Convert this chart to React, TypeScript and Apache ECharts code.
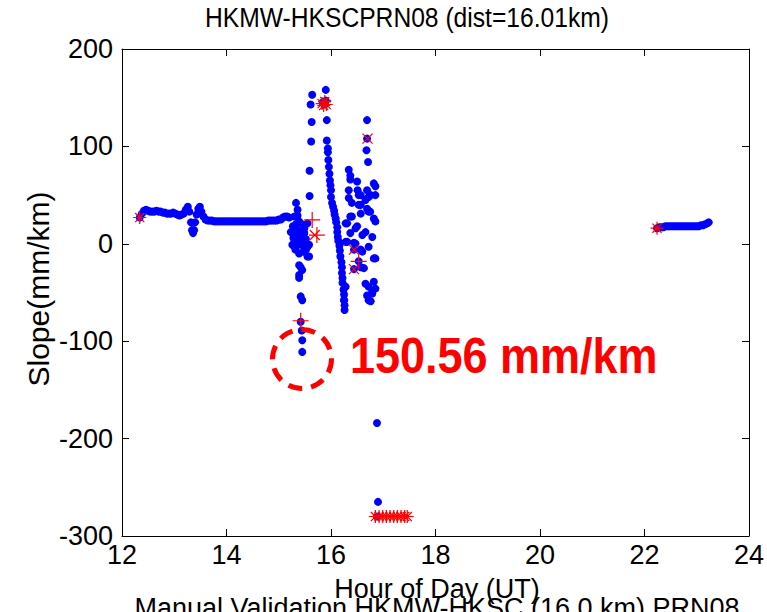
import React, { useEffect, useRef } from "react";
import * as echarts from "echarts";

// Hour of day (UT), slope (mm/km)
const trackEarly: [number, number][] = [
  [12.34, 27], [12.38, 31], [12.42, 34], [12.46, 35], [12.5, 34], [12.54, 33], [12.58, 33], [12.62, 33],
  [12.66, 34], [12.7, 33], [12.74, 33], [12.78, 32], [12.82, 32], [12.86, 31], [12.9, 31], [12.94, 31],
  [12.98, 32], [13.02, 31], [13.06, 30], [13.1, 29], [13.14, 30], [13.18, 31], [13.22, 35], [13.26, 38],
  [13.29, 33], [13.32, 22], [13.34, 14], [13.36, 11], [13.38, 14], [13.4, 22], [13.43, 30], [13.46, 36],
  [13.49, 38], [13.52, 33], [13.56, 28], [13.6, 25], [13.64, 24], [13.68, 24], [13.72, 24], [13.76, 23],
  [13.8, 23], [13.84, 23], [13.88, 23], [13.92, 23], [13.96, 23], [14.0, 23], [14.04, 23], [14.08, 23],
  [14.12, 23], [14.16, 23], [14.2, 23], [14.24, 23], [14.28, 23], [14.32, 23], [14.36, 23], [14.4, 23],
  [14.44, 23], [14.48, 23], [14.52, 23], [14.56, 23], [14.6, 23], [14.64, 23], [14.68, 23], [14.72, 23],
  [14.76, 23], [14.8, 24], [14.84, 24], [14.88, 24], [14.92, 24], [14.96, 24], [15.0, 25], [15.04, 25],
  [15.08, 27], [15.12, 28], [15.16, 28], [15.2, 27],
];

const clusterMid: [number, number][] = [
  [15.23, 12], [15.26, 12], [15.26, -1], [15.28, 6], [15.3, 5], [15.3, 28], [15.3, -3], [15.33, 42],
  [15.36, 35], [15.36, 29], [15.39, 23], [15.39, 0], [15.39, -10], [15.39, -22], [15.39, -32], [15.39, -35],
  [15.42, -1], [15.42, -24], [15.42, -54], [15.42, -80], [15.44, -89], [15.45, -27], [15.45, -58],
  [15.45, -99], [15.45, -111], [15.49, 16], [15.49, 11], [15.52, 5], [15.55, -3], [15.55, 21], [15.55, -13],
  [15.58, -13], [15.58, -1], [15.59, 49], [15.59, 75], [15.62, 105], [15.63, 125], [15.61, 143], [15.64, 153],
  [15.33, 20], [15.36, 14], [15.33, 8], [15.36, 2], [15.45, 5], [15.48, 0], [15.52, -6], [15.45, 20],
  [15.42, 12], [15.47, -8], [15.84, 145], [15.88, 143], [15.27, 18], [15.32, -6], [15.5, -3],
];

const sweep: [number, number][] = [
  [15.9, 158], [15.9, 147], [15.92, 127], [15.92, 106], [15.94, 98], [15.94, 94], [15.95, 86], [15.96, 79],
  [15.97, 72], [15.98, 65], [15.99, 60], [16.0, 55], [16.0, 48], [16.02, 42], [16.04, 38], [16.06, 34],
  [16.07, 30], [16.09, 26], [16.1, 22], [16.12, 17], [16.12, 12], [16.13, 7], [16.14, 3], [16.16, -2],
  [16.17, -7], [16.18, -13], [16.2, -19], [16.21, -24], [16.21, -30], [16.22, -35], [16.22, -40],
  [16.24, -47], [16.25, -52], [16.25, -58], [16.26, -63], [16.26, -68],
];

const clusterLate: [number, number][] = [
  [16.69, 127], [16.69, 108], [16.68, 96], [16.71, 84], [16.34, 76], [16.37, 70], [16.37, 66], [16.5, 64],
  [16.82, 62], [16.85, 59], [16.34, 55], [16.51, 55], [16.69, 55], [16.34, 47], [16.72, 48], [16.57, 50],
  [16.53, 50], [16.76, 50], [16.85, 50], [16.4, 42], [16.53, 40], [16.57, 40], [16.66, 45], [16.69, 36],
  [16.75, 33], [16.37, 28], [16.4, 28], [16.57, 31], [16.72, 33], [16.85, 23], [16.82, 26], [16.28, 21],
  [16.31, 21], [16.5, 18], [16.47, 16], [16.6, 9], [16.66, 12], [16.79, 7], [16.37, 11], [16.28, 2],
  [16.31, 2], [16.44, 1], [16.47, 0], [16.44, -6], [16.57, -6], [16.6, -8], [16.72, -3], [16.82, -15],
  [16.85, -15], [16.53, -18], [16.44, -26], [16.57, -24], [16.63, -25], [16.66, -41], [16.72, -44],
  [16.82, -39], [16.85, -46], [16.79, -49], [16.79, -51], [16.69, -53], [16.72, -58], [16.76, -59],
  [16.28, -44], [16.25, -58],
];

const outliers: [number, number][] = [[16.88, -184], [16.9, -265], [16.88, -280]];

const trackLate: [number, number][] = [
  [22.24, 16], [22.28, 17], [22.32, 17], [22.36, 17], [22.4, 18], [22.44, 18], [22.48, 18], [22.52, 18],
  [22.56, 18], [22.6, 18], [22.64, 18], [22.68, 18], [22.72, 18], [22.76, 18], [22.8, 18], [22.84, 18],
  [22.88, 18], [22.92, 18], [22.96, 18], [23.0, 18], [23.04, 18], [23.08, 19], [23.12, 19], [23.16, 20],
  [23.2, 21], [23.23, 22],
];

const flagStar: [number, number][] = [
  [12.34, 27], [15.83, 144], [15.86, 142], [15.88, 146], [15.91, 143], [22.24, 16],
  [16.85, -280], [16.92, -280], [16.99, -280], [17.06, -280], [17.13, -280], [17.2, -280],
  [17.27, -280], [17.34, -280], [17.41, -280], [17.46, -280],
];
const flagPlus: [number, number][] = [[15.64, 24.5], [15.42, -79], [16.53, -18], [15.73, 9]];
const flagCross: [number, number][] = [[16.7, 108], [16.44, -6], [16.44, -26], [15.69, 9]];

const xTicks = { min: 12, max: 24, step: 2 };
const yTicks = { min: -300, max: 200, step: 100 };

const titleText = "HKMW-HKSCPRN08 (dist=16.01km)";
const xName = "Hour of Day (UT)";
const yName = "Slope(mm/km)";
const footer = "Manual Validation HKMW-HKSC (16.0 km) PRN08";
const note = "150.56 mm/km";

const FONT = "'Liberation Sans', Arial, Helvetica, sans-serif";

export default function App() {
  const ref = useRef<HTMLDivElement>(null);
  useEffect(() => {
    const chart = echarts.init(ref.current!, undefined, { renderer: "svg" });
    const blue = { type: "scatter", symbol: "circle", symbolSize: 8, itemStyle: { color: "#0000ff", opacity: 1 }, xAxisIndex: 0, yAxisIndex: 0, z: 2 };
    const redStyle = { color: "rgba(0,0,0,0)", borderColor: "#ff0000", borderWidth: 1.2, opacity: 1 };
    const axisCommon = {
      axisLine: { show: true, onZero: false, lineStyle: { color: "#000", width: 1 } },
      splitLine: { show: false },
      axisTick: { show: true, inside: true, length: 7, lineStyle: { color: "#000" } },
    };
    chart.setOption({
      animation: false,
      backgroundColor: "#fff",
      grid: { left: 122, top: 49, width: 630, height: 487, show: false },
      xAxis: [
        {
          type: "value", min: xTicks.min, max: xTicks.max, interval: xTicks.step, position: "bottom",
          ...axisCommon,
          axisLabel: { show: true, color: "#000", fontSize: 27, fontFamily: FONT, margin: 5 },
        },
        {
          type: "value", min: xTicks.min, max: xTicks.max, interval: xTicks.step, position: "top",
          ...axisCommon, axisLabel: { show: false },
        },
      ],
      yAxis: [
        {
          type: "value", min: yTicks.min, max: yTicks.max, interval: yTicks.step, position: "left",
          ...axisCommon,
          axisLabel: { show: true, color: "#000", fontSize: 27, fontFamily: FONT, margin: 9 },
        },
        {
          type: "value", min: yTicks.min, max: yTicks.max, interval: yTicks.step, position: "right",
          ...axisCommon, axisLabel: { show: false },
        },
      ],
      series: [
        { ...blue, data: trackEarly },
        { ...blue, data: clusterMid },
        { ...blue, data: sweep },
        { ...blue, data: clusterLate },
        { ...blue, data: outliers },
        { ...blue, data: trackLate },
        {
          type: "scatter", data: flagStar, z: 3, symbolSize: 13,
          symbol: "path://M0,6L12,6M6,0L6,12M1.8,1.8L10.2,10.2M10.2,1.8L1.8,10.2",
          itemStyle: redStyle,
        },
        {
          type: "scatter", data: flagPlus, z: 3, symbolSize: 16,
          symbol: "path://M0,6L12,6M6,0L6,12", itemStyle: redStyle,
        },
        {
          type: "scatter", data: flagCross, z: 3, symbolSize: 10,
          symbol: "path://M0,0L12,12M12,0L0,12", itemStyle: redStyle,
        },
      ],
      graphic: [
        {
          type: "text", x: 407, y: 17, scaleX: 0.88, originX: 0, originY: 0, z: 10,
          style: { text: titleText, font: `28px ${FONT}`, fill: "#000", align: "center", verticalAlign: "middle" },
        },
        {
          type: "text", x: 437, y: 589, z: 10,
          style: { text: xName, font: `27px ${FONT}`, fill: "#000", align: "center", verticalAlign: "middle" },
        },
        {
          type: "text", x: 437, y: 608, z: 10,
          style: { text: footer, font: `27px ${FONT}`, fill: "#000", align: "center", verticalAlign: "middle" },
        },
        {
          type: "text", x: 38, y: 289, rotation: Math.PI / 2, z: 10,
          style: { text: yName, font: `30px ${FONT}`, fill: "#000", align: "center", verticalAlign: "middle" },
        },
        {
          type: "circle", shape: { cx: 302, cy: 359, r: 29.5 }, z: 10,
          style: { fill: "none", stroke: "#ff0000", lineWidth: 5, lineDash: [14, 9] },
        },
        {
          type: "text", x: 350, y: 356, scaleX: 0.9, originX: 0, originY: 0, z: 10,
          style: { text: note, font: `bold 50px ${FONT}`, fill: "#ff0000", align: "left", verticalAlign: "middle" },
        },
      ],
    });
    return () => chart.dispose();
  }, []);
  return (
    <div
      ref={ref}
      style={{ position: "fixed", left: 0, top: 0, width: 767, height: 612, background: "#fff" }}
    />
  );
}
